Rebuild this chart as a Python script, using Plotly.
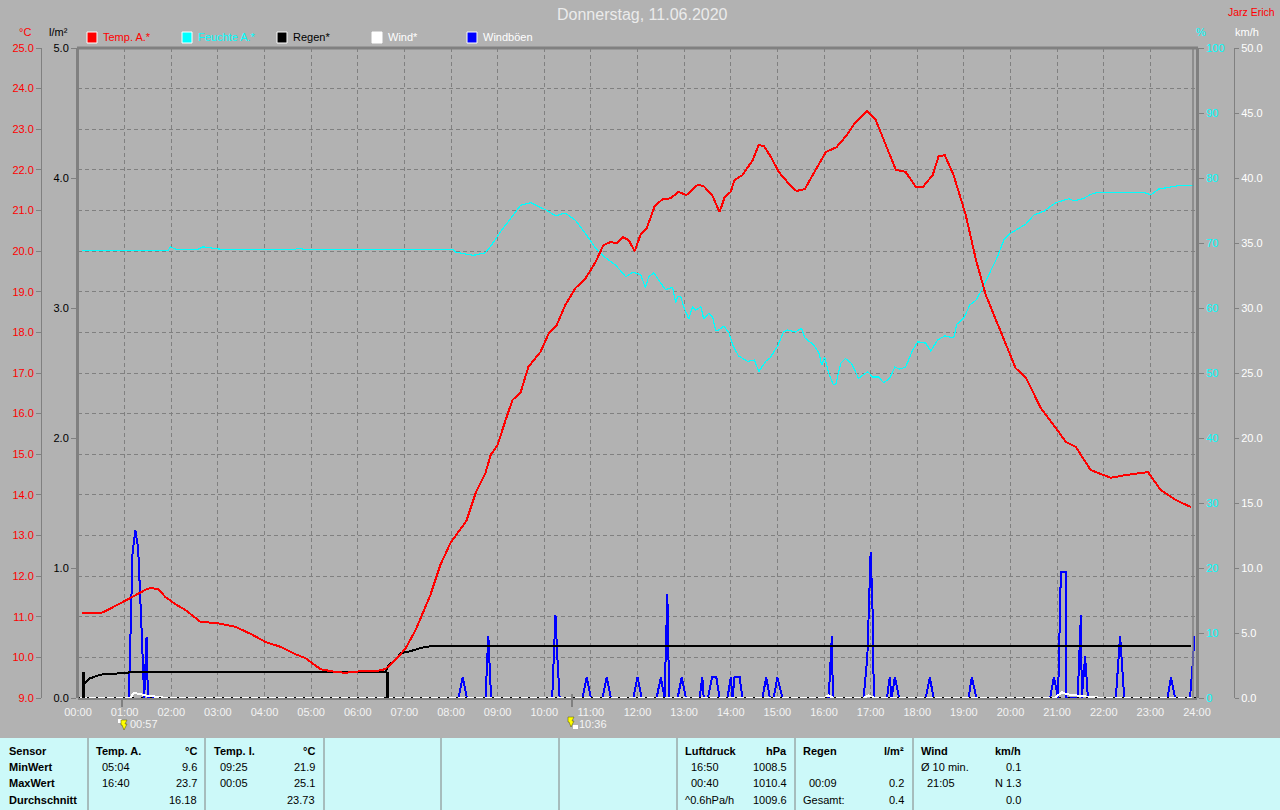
import plotly.graph_objects as go

W, H = 1280, 810
BG = "#b2b2b2"
GRID = "#808080"
FONT = "Liberation Sans"

hour_labels = ["%02d:00" % h for h in range(25)]

temp_hours = [0.09,0.48,0.59,0.80,1.12,1.44,1.55,1.72,1.87,2.09,2.30,2.63,2.95,3.38,3.70,4.02,4.34,4.66,4.88,5.20,5.52,5.74,6.06,6.38,6.59,6.81,7.02,7.24,7.56,7.77,7.99,8.16,8.33,8.53,8.74,8.85,9.00,9.17,9.32,9.49,9.66,9.92,10.09,10.26,10.45,10.67,10.89,11.10,11.27,11.42,11.57,11.68,11.81,11.94,12.07,12.20,12.37,12.54,12.71,12.88,13.05,13.29,13.42,13.61,13.76,13.87,14.00,14.08,14.25,14.47,14.60,14.71,14.86,15.03,15.29,15.41,15.59,15.82,16.04,16.27,16.47,16.68,16.92,17.11,17.32,17.54,17.75,17.97,18.12,18.33,18.46,18.59,18.78,19.04,19.26,19.47,19.69,19.90,20.11,20.33,20.65,20.97,21.19,21.40,21.72,22.15,22.48,22.95,23.22,23.55,23.87]
temp_values = [11.09,11.09,11.14,11.26,11.46,11.66,11.71,11.68,11.49,11.31,11.17,10.87,10.85,10.75,10.58,10.38,10.26,10.08,9.98,9.71,9.64,9.62,9.66,9.66,9.71,9.94,10.21,10.67,11.54,12.27,12.82,13.09,13.36,14.05,14.54,14.98,15.23,15.84,16.34,16.51,17.15,17.52,17.96,18.16,18.67,19.09,19.34,19.73,20.15,20.22,20.20,20.35,20.27,20.00,20.42,20.57,21.11,21.28,21.30,21.46,21.38,21.63,21.60,21.36,20.96,21.33,21.46,21.75,21.87,22.24,22.61,22.59,22.32,21.95,21.60,21.48,21.53,22.00,22.44,22.56,22.83,23.18,23.45,23.23,22.61,22.00,21.95,21.58,21.58,21.87,22.34,22.36,21.87,20.89,19.78,18.92,18.30,17.69,17.12,16.88,16.14,15.65,15.30,15.18,14.61,14.42,14.49,14.56,14.12,13.87,13.70]

hum_hours = [0.09,1.93,1.98,2.10,2.57,2.68,3.05,4.67,4.72,4.83,8.03,8.10,8.31,8.48,8.74,8.85,9.06,9.28,9.49,9.71,10.03,10.24,10.45,10.67,10.89,11.10,11.32,11.53,11.75,11.90,12.07,12.17,12.24,12.35,12.50,12.60,12.75,12.82,12.86,12.93,12.99,13.10,13.18,13.25,13.36,13.42,13.53,13.61,13.68,13.74,13.85,13.96,14.06,14.17,14.36,14.51,14.60,14.75,14.84,15.01,15.13,15.22,15.39,15.52,15.59,15.78,15.89,15.95,16.01,16.10,16.20,16.25,16.36,16.46,16.59,16.74,16.94,17.04,17.17,17.28,17.41,17.52,17.62,17.75,17.90,18.01,18.18,18.29,18.44,18.59,18.78,18.85,19.00,19.13,19.26,19.36,19.58,19.71,19.86,20.00,20.33,20.50,20.72,20.97,21.25,21.36,21.55,21.73,21.88,22.22,22.86,23.01,23.18,23.59,23.93]
hum_values = [68.85,68.85,69.4,69.05,69.05,69.4,69.05,69.05,69.2,69.05,69.05,68.6,68.3,68.1,68.5,69.5,71.7,73.8,75.8,76.2,75.1,74.2,74.6,73.5,71.4,69.2,67.7,66.6,64.8,65.5,65.1,63.1,64.8,65.4,63.8,62.8,63.2,60.8,61.8,61.7,60.2,58.3,60.2,59.7,60.2,58.3,59.2,58.6,56.5,56.6,57.2,56.2,54.0,52.6,51.8,52.0,50.2,51.8,52.3,54.2,56.3,56.6,56.3,56.9,55.4,54.3,53.1,51.2,52.5,50.0,48.2,48.2,51.5,52.2,51.5,49.2,50.2,49.4,49.4,48.5,49.2,50.9,50.6,50.9,53.5,54.8,54.6,53.4,55.1,55.7,55.4,57.5,58.5,60.5,61.2,62.5,65.8,67.7,70.5,71.5,72.9,74.3,74.9,76.2,76.8,76.5,76.8,77.5,77.8,77.8,77.8,77.4,78.3,78.8,78.9]

rain_total_hours = [0.11,0.14,0.25,0.48,0.90,1.20,6.60,6.65,6.80,6.92,7.13,7.35,7.60,23.87]
rain_total_values = [0.08,0.11,0.15,0.18,0.19,0.20,0.20,0.25,0.29,0.345,0.36,0.385,0.40,0.40]
rain_burst_hours = [0.12,None,6.63]
rain_burst_bottom = [0.0,None,0.0]
rain_burst_top = [0.2,None,0.2]

wind_hours = [0.0,1.12,1.20,1.30,1.45,1.90,16.00,16.10,16.20,16.85,16.95,17.10,20.95,21.10,21.20,21.50,21.70,22.00,24.0]
wind_values = [0.0,0.0,0.4,0.3,0.2,0.0,0.0,0.2,0.0,0.0,0.2,0.0,0.0,0.45,0.3,0.15,0.1,0.0,0.0]

gust_hours = [0.0,1.09,1.12,1.17,1.23,1.29,1.36,1.40,1.42,1.47,1.50,8.16,8.25,8.34,8.74,8.80,8.86,10.17,10.20,10.24,10.28,10.33,10.82,10.91,11.00,11.25,11.34,11.43,11.91,12.00,12.09,12.41,12.50,12.58,12.64,12.68,12.86,12.95,13.04,13.33,13.39,13.42,13.51,13.60,13.69,13.76,13.93,14.00,14.04,14.08,14.19,14.25,14.68,14.76,14.84,14.92,15.00,15.11,16.10,16.17,16.19,16.85,16.93,16.98,17.00,17.04,17.07,17.35,17.41,17.45,17.52,17.61,18.18,18.27,18.35,19.10,19.17,19.27,20.85,20.93,21.02,21.05,21.08,21.19,21.20,21.44,21.51,21.53,21.60,21.66,22.26,22.35,22.44,23.37,23.44,23.53,23.85,23.92,23.94]
gust_values = [0.0,0.0,4.0,11.2,12.9,11.5,5.6,1.6,0.0,4.7,0.0,0.0,1.6,0.0,0.0,4.8,0.0,0.0,3.2,6.4,3.2,0.0,0.0,1.6,0.0,0.0,1.6,0.0,0.0,1.6,0.0,0.0,1.6,0.0,8.0,0.0,0.0,1.6,0.0,0.0,1.6,0.0,0.0,1.6,1.6,0.0,0.0,1.6,0.0,1.6,1.6,0.0,0.0,1.6,0.0,0.0,1.6,0.0,0.0,4.8,0.0,0.0,3.2,8.0,11.2,7.0,0.0,0.0,1.6,0.0,1.6,0.0,0.0,1.6,0.0,0.0,1.6,0.0,0.0,1.6,0.0,4.8,9.7,9.7,0.0,0.0,6.4,0.0,3.2,0.0,0.0,4.8,0.0,0.0,1.6,0.0,0.0,3.2,4.8]

legend_names = ["Temp. A.*", "Feuchte A.*", "Regen*", "Wind*", "Windböen"]
legend_colors = ["#ff0000", "#00ffff", "#000000", "#ffffff", "#0000ff"]
legend_text_colors = ["#ff0000", "#00ffff", "#000000", "#ffffff", "#ffffff"]

row_titles = ["Sensor", "MinWert", "MaxWert", "Durchschnitt"]
temp_a_col = [("Temp. A.", "°C"), ("05:04", "9.6"), ("16:40", "23.7"), ("", "16.18")]
temp_i_col = [("Temp. I.", "°C"), ("09:25", "21.9"), ("00:05", "25.1"), ("", "23.73")]
press_col = [("Luftdruck", "hPa"), ("16:50", "1008.5"), ("00:40", "1010.4"), ("^0.6hPa/h", "1009.6")]
rain_col = [("Regen", "l/m²"), ("", ""), ("00:09", "0.2"), ("Gesamt:", "0.4")]
wind_col = [("Wind", "km/h"), ("Ø 10 min.", "0.1"), ("21:05", "N 1.3"), ("", "0.0")]

lightning_labels = ["00:57", "10:36"]


def px(x):
    return x / W


def py(y):
    return 1 - y / H


annotations = []
shapes = []


def text(x, y, s, color="#000000", size=11, anchor="left", bold=False):
    if not s:
        return
    annotations.append(dict(
        x=px(x), y=py(y), xref="paper", yref="paper", text=f"<b>{s}</b>" if bold else s,
        showarrow=False, xanchor=anchor, yanchor="middle", borderpad=0, xshift=0,
        font=dict(family=FONT, size=size, color=color),
    ))


def rect(x0, y0, x1, y1, fill, line=None, width=0, layer="below"):
    shapes.append(dict(type="rect", xref="paper", yref="paper", x0=px(x0), x1=px(x1), y0=py(y0), y1=py(y1),
                       fillcolor=fill, line=dict(color=line or fill, width=width), layer=layer))


def vline(x, y0, y1, color=GRID, width=1, layer="above"):
    shapes.append(dict(type="line", xref="paper", yref="paper", x0=px(x), x1=px(x), y0=py(y0), y1=py(y1),
                       line=dict(color=color, width=width), layer=layer))


def bolt(x, y):
    shapes.append(dict(type="path", xref="paper", yref="paper",
                       path=f"M {px(x-3)} {py(y-5)} L {px(x+3)} {py(y-5)} L {px(x+1)} {py(y-1)} L {px(x+3)} {py(y-1)} "
                            f"L {px(x)} {py(y+5)} L {px(x-2)} {py(y)} L {px(x-3)} {py(y)} Z",
                       fillcolor="#ffff00", line=dict(color="#505000", width=0.5), layer="above"))


# header
text(642, 15, "Donnerstag, 11.06.2020", "#ebebeb", 16, "center")
text(1276, 12, "Jarz Erich", "#ff0000", 10.5, "right")
text(25, 32, "°C", "#ff0000", 11, "center")
text(58, 32, "l/m²", "#000000", 11, "center")
text(1201, 32, "%", "#00ffff", 11, "center")
text(1247, 32, "km/h", "#ffffff", 11, "center")

for i, name in enumerate(legend_names):
    x0 = 87 + i * 95
    rect(x0, 32, x0 + 10, 43, legend_colors[i], "#ffffff", 1)
    text(x0 + 15, 37.5, name, legend_text_colors[i], 11)

# frame parts
shapes.append(dict(type="line", xref="paper", yref="paper", x0=px(77), x1=px(1198), y0=py(48), y1=py(48),
                   line=dict(color=GRID, width=3), layer="above"))
vline(1193, 48, 698, GRID, 1.5)

# lightning markers under the axis
vline(122, 698, 707, GRID, 2)
rect(118, 719, 122, 723, "#ffffff", layer="above")
bolt(124, 725)
text(129, 723.5, lightning_labels[0], "#f4f4f4", 11)
vline(572, 694, 707, GRID, 2)
bolt(571, 722)
rect(573, 725, 578, 729, "#ffffff", layer="above")
text(578, 723.5, lightning_labels[1], "#f4f4f4", 11)

# summary table
rect(0, 738, W, 810, "#ccf9f9")
for x in [88, 205, 324, 441, 559, 677, 795, 913]:
    vline(x, 738, 810, GRID, 1)
rows_y = [751, 767, 783, 800]
for y, t in zip(rows_y, row_titles):
    text(8, y, t, "#000000", 11, bold=True)
for col, xl, xr in [(temp_a_col, 95, 198), (temp_i_col, 213, 316), (press_col, 684, 788), (rain_col, 802, 905), (wind_col, 920, 1022)]:
    for j, (y, (left, right)) in enumerate(zip(rows_y, col)):
        plain_offset = 0 if j == 0 or left in ("^0.6hPa/h", "Gesamt:", "Ø 10 min.") else 6
        text(xl + plain_offset, y, left, "#000000", 11, bold=j == 0)
        text(xr, y, right, "#000000", 11, "right", bold=j == 0)

fig = go.Figure()
# wind axis (drawn first)
fig.add_trace(go.Scatter(x=gust_hours, y=gust_values, mode="lines", name="Windböen", yaxis="y",
                         line=dict(color="#0000ff", width=2)))
fig.add_trace(go.Scatter(x=wind_hours, y=wind_values, mode="lines", name="Wind*", yaxis="y",
                         line=dict(color="#ffffff", width=2)))
# humidity
fig.add_trace(go.Scatter(x=hum_hours, y=hum_values, mode="lines", name="Feuchte A.*", yaxis="y2",
                         line=dict(color="#00ffff", width=1.2), connectgaps=False))
# rain
rain_x = []
rain_y = []
for h, b, t in zip(rain_burst_hours, rain_burst_bottom, rain_burst_top):
    rain_x += [h, h]
    rain_y += [b, t]
fig.add_trace(go.Scatter(x=rain_x, y=rain_y, mode="lines", name="Regen*", yaxis="y3",
                         line=dict(color="#000000", width=3), connectgaps=False))
fig.add_trace(go.Scatter(x=rain_total_hours, y=rain_total_values, mode="lines", name="Regen gesamt", yaxis="y3",
                         line=dict(color="#000000", width=2)))
fig.add_trace(go.Scatter(x=[0, 24], y=[0, 0], mode="lines", name="Regen 0", yaxis="y3", cliponaxis=False,
                         line=dict(color="#000000", width=1.5, dash="2px,7px")))
# temperature
fig.add_trace(go.Scatter(x=temp_hours, y=temp_values, mode="lines", name="Temp. A.*", yaxis="y4",
                         line=dict(color="#ff0000", width=2)))

axfont = dict(family=FONT, size=11)
dom_y = [1 - 698 / H, 1 - 48 / H]
# one temperature degree on the 0-50 km/h axis, used to draw the degree grid beneath all curves
deg_on_wind = 50 / 16
fig.update_layout(
    width=W, height=H, autosize=False, margin=dict(l=0, r=0, t=0, b=0, pad=0, autoexpand=False),
    paper_bgcolor=BG, plot_bgcolor=BG, showlegend=False, hovermode=False,
    annotations=annotations, shapes=shapes,
    xaxis=dict(domain=[78 / W, 1197 / W], range=[0, 24], tickmode="array", tickvals=list(range(25)),
               ticktext=hour_labels, tickfont=dict(color="#f4f4f4", **axfont), ticks="", showline=True,
               linecolor=GRID, linewidth=1.5, zeroline=False, showgrid=True, gridcolor=GRID, griddash="4px,3px",
               gridwidth=1, ticklabelstandoff=3),
    yaxis=dict(domain=dom_y, range=[0, 50], tick0=0, dtick=5, side="right", anchor="free", position=1234 / W,
               showline=True, linecolor=GRID, linewidth=1, ticks="outside", ticklen=4, tickcolor=GRID,
               tickformat=".1f", tickfont=dict(color="#ffffff", **axfont), showgrid=False, zeroline=False,
               minor=dict(tickmode="array", tickvals=[deg_on_wind * k for k in range(1, 16)], showgrid=True,
                          gridcolor=GRID, griddash="4px,3px", gridwidth=1, ticks="", ticklen=0)),
    yaxis2=dict(domain=dom_y, range=[0, 100], tick0=0, dtick=10, side="right", overlaying="y", anchor="free",
                position=1197 / W, showline=True, linecolor=GRID, linewidth=3, ticks="outside", ticklen=5,
                tickcolor=GRID, tickfont=dict(color="#00ffff", **axfont), showgrid=False, zeroline=False),
    yaxis3=dict(domain=dom_y, range=[0, 5], tick0=0, dtick=1, side="left", overlaying="y", anchor="free",
                position=77 / W, showline=True, linecolor=GRID, linewidth=3, ticks="outside", ticklen=5,
                tickcolor=GRID, tickformat=".1f", tickfont=dict(color="#000000", **axfont), showgrid=False,
                zeroline=False),
    yaxis4=dict(domain=dom_y, range=[9, 25], tick0=9, dtick=1, side="left", overlaying="y", anchor="free",
                position=41 / W, showline=True, linecolor=GRID, linewidth=1, ticks="outside", ticklen=5,
                tickcolor=GRID, tickformat=".1f", tickfont=dict(color="#ff0000", **axfont), showgrid=False,
                zeroline=False),
)

fig.write_html("out.html", config=dict(displayModeBar=False, staticPlot=True),
               post_script="document.body.style.margin='0';document.querySelectorAll('.scatterlayer path').forEach(function(p){p.style.shapeRendering='crispEdges';});")
